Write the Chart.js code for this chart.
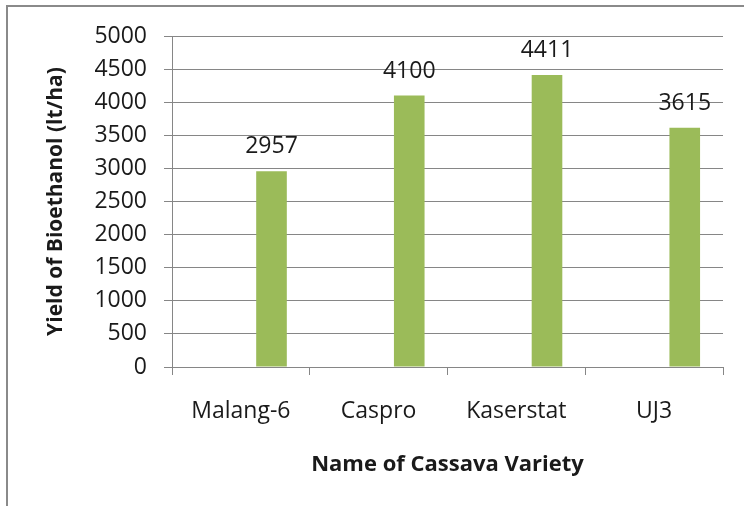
<!DOCTYPE html>
<html>
<head>
<meta charset="utf-8">
<script src="https://cdn.jsdelivr.net/npm/chart.js@4.4.1/dist/chart.umd.min.js"></script>
<style>
  html, body { margin: 0; padding: 0; background: #fff; }
  #wrap { position: relative; width: 744px; height: 506px; }
  #frame {
    position: absolute; left: 6px; top: 5px; right: 0; bottom: 0;
    border-top: 2px solid #8a8a8a; border-left: 2px solid #8a8a8a;
    pointer-events: none;
  }
</style>
</head>
<body>
<div id="wrap">
  <canvas id="myChart" width="744" height="506"></canvas>
  <div id="frame"></div>
</div>
<script>
// ---------------- DATA ----------------
const categories = ["Malang-6", "Caspro", "Kaserstat", "UJ3"];
const yieldValues = [2957, 4100, 4411, 3615];
const emptySeries = [null, null, null, null];
const yTicks = [0, 500, 1000, 1500, 2000, 2500, 3000, 3500, 4000, 4500, 5000];

const FONT = "'Open Sans', 'Noto Sans', sans-serif";
const gridColor = "#868686";
const textColor = "#1a1a1a";

// ---------------- VALUE LABELS ----------------
const valueLabels = {
    id: "valueLabels",
    afterDatasetsDraw(chart) {
        const ctx = chart.ctx;
        const meta = chart.getDatasetMeta(2);
        ctx.save();
        ctx.font = "23px " + FONT;
        ctx.fillStyle = textColor;
        ctx.textAlign = "center";
        ctx.textBaseline = "alphabetic";
        meta.data.forEach((bar, i) => {
            ctx.fillText(String(yieldValues[i]), bar.x, bar.y - 18);
        });
        ctx.restore();
    }
};

const ctx = document.getElementById("myChart").getContext("2d");

new Chart(ctx, {
    type: "bar",
    data: {
        labels: categories,
        datasets: [
            { data: emptySeries, backgroundColor: "#4F81BD" },
            { data: emptySeries, backgroundColor: "#C0504D" },
            { data: yieldValues, backgroundColor: "#9BBB59" }
        ]
    },
    options: {
        responsive: false,
        animation: false,
        layout: { padding: { top: 36, right: 21, bottom: 0, left: 0 } },
        datasets: {
            bar: { categoryPercentage: 0.667, barPercentage: 1.0 }
        },
        plugins: {
            legend: { display: false },
            tooltip: { enabled: false }
        },
        scales: {
            x: {
                grid: {
                    offset: true,
                    drawOnChartArea: false,
                    drawTicks: true,
                    tickLength: 8,
                    color: gridColor
                },
                border: { color: gridColor },
                ticks: {
                    color: textColor,
                    font: { family: FONT, size: 23 },
                    padding: 23,
                    maxRotation: 0
                },
                title: {
                    display: true,
                    text: "Name of Cassava Variety",
                    color: textColor,
                    font: { family: FONT, size: 22, weight: "bold" },
                    padding: { top: 3, bottom: 28 }
                }
            },
            y: {
                min: 0,
                max: 5000,
                afterBuildTicks(scale) {
                    scale.ticks = yTicks.map(v => ({ value: v }));
                },
                afterFit(scale) {
                    scale.width = 172;
                },
                grid: {
                    color: gridColor,
                    tickLength: 8
                },
                border: { color: gridColor },
                ticks: {
                    color: textColor,
                    font: { family: FONT, size: 23 },
                    padding: 17,
                    callback: v => String(v)
                },
                title: {
                    display: true,
                    text: "Yield of Bioethanol (lt/ha)",
                    color: textColor,
                    font: { family: FONT, size: 21, weight: "bold" },
                    padding: { top: 43, bottom: 0 }
                }
            }
        }
    },
    plugins: [valueLabels]
});
</script>
</body>
</html>
